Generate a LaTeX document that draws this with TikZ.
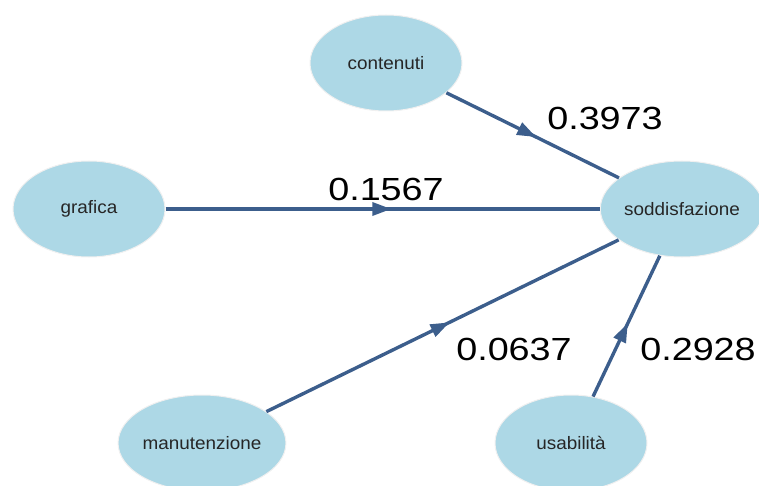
\documentclass[tikz,border=0pt]{standalone}
\usepackage{fontspec}
\setmainfont{Liberation Sans}
\newfontfamily\widesans[FakeStretch=1.05]{Liberation Sans}
\newfontfamily\widersans[FakeStretch=1.18]{Liberation Sans}
\usetikzlibrary{shapes.geometric,arrows.meta,decorations.markings}
\definecolor{nodefill}{HTML}{ADD8E6}
\definecolor{edgeblue}{RGB}{60,94,140}

\begin{document}
\begin{tikzpicture}[x=1pt, y=-1pt,
        latent/.style={ellipse, fill=nodefill, draw=black!6, line width=1pt, minimum width=152pt, minimum height=96pt, inner sep=0pt, text=black!85, font=\widesans\fontsize{18}{18}\selectfont},
        effect/.style={draw=edgeblue, line width=3.4pt, decoration={markings, mark=at position 0.52 with {\arrow{Triangle[length=19pt,width=13pt]}}}, postaction={decorate}},
        coef/.style={font=\widersans\fontsize{32}{32}\selectfont, inner sep=0pt}]
    \useasboundingbox (0,0) rectangle (759,486);
    % constructs
    \node[latent] (contenuti) at (386,63) {contenuti};
    \node[latent] (grafica) at (89,209) {grafica};
    \node[latent] (soddisfazione) at (682,209) {soddisfazione};
    \node[latent] (manutenzione) at (202,443) {manutenzione};
    \node[latent] (usabilita) at (571,443) {usabilità};
    % paths
    \draw[effect] (contenuti) -- (soddisfazione);
    \draw[effect] (grafica) -- (soddisfazione);
    \draw[effect] (manutenzione) -- (soddisfazione);
    \draw[effect] (usabilita) -- (soddisfazione);
    % coefficients
    \node[coef] (coefcont) at (605,118) {0.3973};
    \node[coef] (coefgraf) at (386,189) {0.1567};
    \node[coef] (coefmanu) at (514,349) {0.0637};
    \node[coef] (coefusab) at (698,349) {0.2928};
\end{tikzpicture}
\end{document}
